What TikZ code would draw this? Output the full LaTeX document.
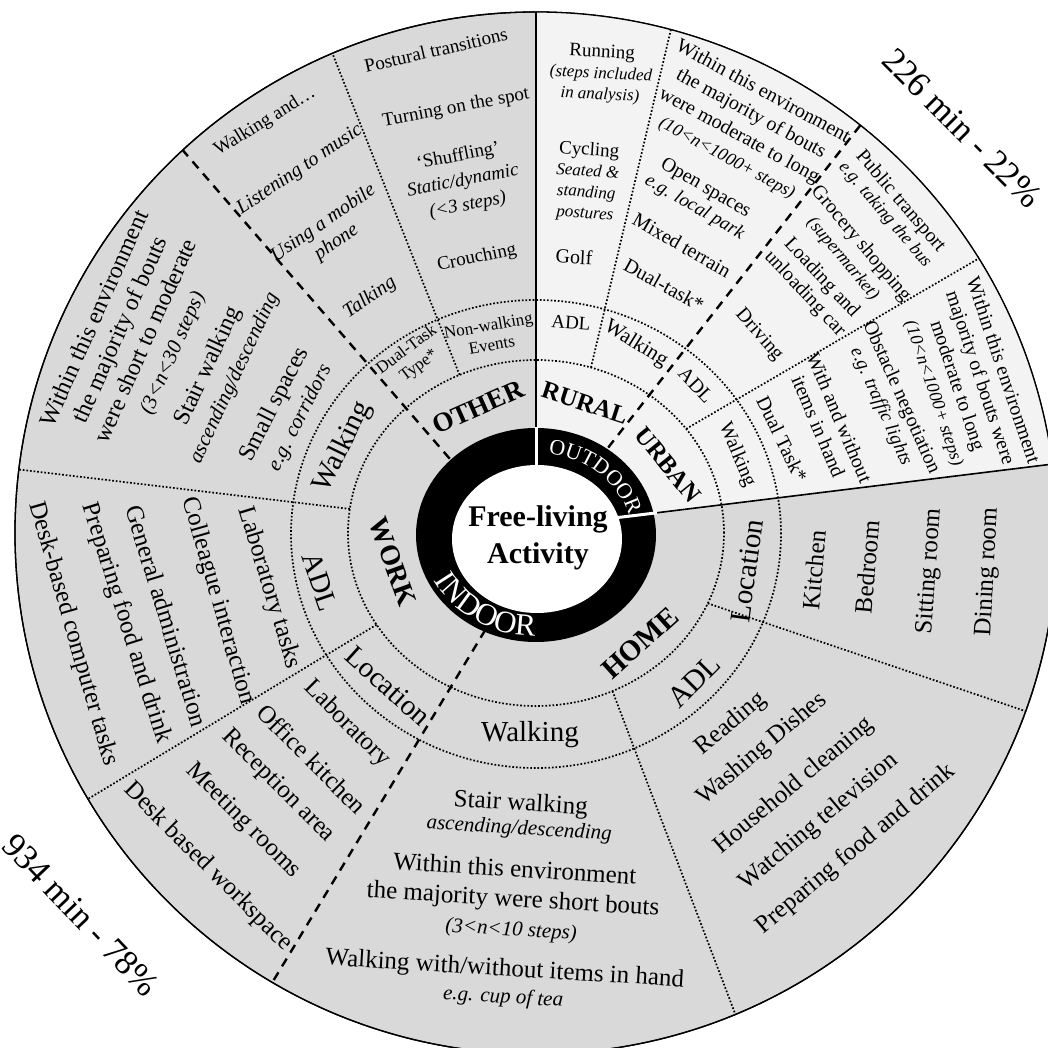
\documentclass[tikz,border=0pt]{standalone}
\usepackage{fontspec}
\setmainfont{Liberation Serif}
\usetikzlibrary{decorations.text}
\definecolor{indoorgray}{RGB}{217,217,217}
\definecolor{outdoorgray}{RGB}{243,243,243}
\newcommand{\fsz}[2]{\fontsize{#1}{#2}\selectfont}
\begin{document}
\begin{tikzpicture}[x=1pt,y=1pt,
  dotline/.style={line width=1.7pt, dash pattern=on 1.7pt off 1.9pt},
  dashline/.style={line width=2.4pt, dash pattern=on 9pt off 7pt},
  lbl/.style={align=center, inner sep=0pt, text=black}]
\useasboundingbox (-536,-515) rectangle (512,533);
\clip (-536,-515) rectangle (512,533);
\fill[white] (-536,-515) rectangle (512,533);
% discs
\filldraw[fill=indoorgray, draw=black, line width=1.3pt] (0,0) circle[radius=521pt];
\fill[outdoorgray] (0,0) -- (119,20) -- (516.4,68.9) arc[start angle=7.6, end angle=90, radius=521pt] -- cycle;
\draw[black, line width=1.3pt] (0,0) circle[radius=521pt];
% dotted rings
\draw[dotline] (0,0) ellipse[x radius=188pt, y radius=173pt];
\draw[dotline] (0,-1) ellipse[x radius=245pt, y radius=234pt];
% dotted radial separators
\draw[dotline] (114:188pt and 173pt) -- (113:521pt);
\draw[dotline] (73:188pt and 173pt) -- (75:521pt);
\draw[dotline] (37:188pt and 173pt) -- (31.8:521pt);
\draw[dotline] (336:188pt and 173pt) -- (340:521pt);
\draw[dotline] (294:188pt and 173pt) -- (292.5:521pt);
\draw[dotline] (172:188pt and 173pt) -- (173:521pt);
\draw[dotline] (212:188pt and 173pt) -- (210.7:521pt);
% dashed separators
\draw[dashline] (53:120pt and 107pt) -- (51.5:521pt);
\draw[dashline] (136:120pt and 107pt) -- (132.7:521pt);
\draw[dashline] (245:120pt and 107pt) -- (239.6:521pt);
% solid separators
\draw[black, line width=1.6pt] (0,100) -- (0,521);
\draw[black, line width=1.6pt] (115,19.5) -- (516.4,68.9);
% central ring
\fill[black] (0,-2) ellipse[x radius=120pt, y radius=107pt];
\fill[white] (1,-6) ellipse[x radius=85pt, y radius=74pt];
\draw[white, line width=3pt] (0,64) -- (0,106);
\draw[white, line width=3pt] (82,15.5) -- (121,20.2);
\path[decorate, decoration={text along path, text={|\fsz{22}{22}|OUTDOOR}, text align=center, text color=white}]
  (0,-4) ++(93:96pt and 84pt) arc[start angle=93, end angle=3, x radius=96pt, y radius=84pt];
\path[decorate, decoration={text along path, text={|\fsz{31}{31}|INDOOR}, text align=center, text color=white}]
  (0,-3) ++(187:114pt and 100pt) arc[start angle=187, end angle=287, x radius=114pt, y radius=100pt];
\begin{scope}[shift={(-536,533)}, yscale=-1]
% centre
\node[lbl, font=\fsz{30}{37}\bfseries] (centre) at (538,538) {Free-living\\Activity};
% categories
\node[lbl, rotate=24, font=\fsz{27}{30}\bfseries] (cOther) at (478,407) {OTHER};
\node[lbl, rotate=-18, font=\fsz{25}{30}\bfseries] (cRural) at (585,403) {RURAL};
\node[lbl, rotate=-51, font=\fsz{25}{30}\bfseries] (cUrban) at (668,465) {URBAN};
\node[lbl, rotate=-70, font=\fsz{28}{30}\bfseries] (cWork) at (393,562) {WORK};
\node[lbl, rotate=42, font=\fsz{29}{30}\bfseries] (cHome) at (640,643) {HOME};
% sub ring
\node[lbl, rotate=37, font=\fsz{17}{20}] (sDual) at (413,358) {Dual-Task\\Type*};
\node[lbl, rotate=10, font=\fsz{17}{20}] (sNon) at (490,335) {Non-walking\\Events};
\node[lbl, rotate=-4, font=\fsz{19}{22}] (sRurAdl) at (571,323) {ADL};
\node[lbl, rotate=-32, font=\fsz{21}{24}] (sRurWalk) at (636,344) {Walking};
\node[lbl, rotate=-47, font=\fsz{20}{24}] (sUrbAdl) at (696,385) {ADL};
\node[lbl, rotate=-67, font=\fsz{20}{24}] (sUrbWalk) at (737,455) {Walking};
\node[lbl, rotate=64, font=\fsz{29}{32}] (sWorkWalk) at (343,447) {Walking};
\node[lbl, rotate=-71, font=\fsz{29}{32}] (sWorkAdl) at (320,582) {ADL};
\node[lbl, rotate=-42, font=\fsz{29}{32}] (sWorkLoc) at (388,686) {Location};
\node[lbl, rotate=82, font=\fsz{29}{32}] (sHomeLoc) at (747,571) {Location};
\node[lbl, rotate=45, font=\fsz{30}{32}] (sHomeAdl) at (694,681) {ADL};
\node[lbl, font=\fsz{29}{32}] (sHomeWalk) at (530,735) {Walking};
% OTHER items
\node[lbl, rotate=31.5, font=\fsz{19}{22}] (oWalkAnd) at (265,122) {Walking and…};
\node[lbl, rotate=34, font=\fsz{20}{23}\itshape] (oMusic) at (300,170) {Listening to music};
\node[lbl, rotate=34.5, font=\fsz{20}{23}\itshape] (oPhone) at (330,233) {Using a mobile\\phone};
\node[lbl, rotate=34.5, font=\fsz{20}{23}\itshape] (oTalk) at (370,298) {Talking};
\node[lbl, rotate=13, font=\fsz{19}{22}] (oPost) at (436,50) {Postural transitions};
\node[lbl, rotate=10.5, font=\fsz{19}{22}] (oTurn) at (456,108) {Turning on the spot};
\node[lbl, rotate=11, font=\fsz{19}{25}] (oShuf) at (463,181) {‘Shuffling’\\\textit{Static/dynamic}\\\textit{(<3 steps)}};
\node[lbl, rotate=12, font=\fsz{19}{22}] (oCrouch) at (477,258) {Crouching};
% RURAL items
\node[lbl, rotate=-3, font=\fsz{19}{21}] (oRun) at (601,74) {Running\\{\fsz{17}{21}\itshape (steps included}\\{\fsz{17}{21}\itshape in analysis)}};
\node[lbl, rotate=-4, font=\fsz{19}{21}] (oCyc) at (587,182) {Cycling\\{\fsz{17}{21}\itshape Seated \&}\\{\fsz{17}{21}\itshape standing}\\{\fsz{17}{21}\itshape postures}};
\node[lbl, rotate=-3, font=\fsz{20}{22}] (oGolf) at (574,257) {Golf};
\node[lbl, rotate=-28.5, font=\fsz{20}{25}] (oRurEnv) at (745,125) {Within this environment\\the majority of bouts\\were moderate to long\\{\fsz{18}{22}\itshape (10<n<1000+ steps)}};
\node[lbl, rotate=-30, font=\fsz{20}{22}] (oOpen) at (700,198) {Open spaces\\{\fsz{19}{22}\itshape e.g. local park}};
\node[lbl, rotate=-30, font=\fsz{20}{22}] (oMixed) at (682,245) {Mixed terrain};
\node[lbl, rotate=-29, font=\fsz{20}{22}] (oRurDual) at (664,285) {Dual-task*};
% URBAN items
\node[lbl, rotate=-49.5, font=\fsz{20}{20}] (oBus) at (893,208) {Public transport\\{\fsz{18}{20}\itshape e.g. taking the bus}};
\node[lbl, rotate=-50, font=\fsz{20}{23}] (oGroc) at (852,251) {Grocery shopping\\{\fsz{18}{20}\itshape (supermarket)}};
\node[lbl, rotate=-47, font=\fsz{20}{23}] (oLoad) at (813,286) {Loading and\\unloading car};
\node[lbl, rotate=-49, font=\fsz{20}{23}] (oDrive) at (759,335) {Driving};
\node[lbl, rotate=-64, font=\fsz{20}{23}] (oUrbDual) at (782,439) {Dual Task*};
\node[lbl, rotate=-67, font=\fsz{20}{23}] (oItems) at (829,422) {With and without\\items in hand};
\node[lbl, rotate=-66, font=\fsz{20}{22}] (oObst) at (891,402) {Obstacle negotiation\\{\fsz{19}{22}\itshape e.g. traffic lights}};
\node[lbl, rotate=-71.5, font=\fsz{20}{24}] (oUrbEnv) at (968,382) {Within this environment\\majority of bouts were\\moderate to long\\{\fsz{18}{22}\itshape (10<n<1000+ steps)}};
% WORK walking items
\node[lbl, rotate=66, font=\fsz{24}{28}] (oWorkEnv) at (134,336) {Within this environment\\the majority of bouts\\were short to moderate\\{\fsz{21}{24}\itshape (3<n<30 steps)}};
\node[lbl, rotate=65, font=\fsz{24}{28}] (oWorkStair) at (221,372) {Stair walking\\{\fsz{21}{24}\itshape ascending/descending}};
\node[lbl, rotate=63, font=\fsz{24}{28}] (oSmall) at (287,411) {Small spaces\\{\fsz{21}{24}\itshape e.g. corridors}};
% WORK ADL items
\node[lbl, rotate=-73, font=\fsz{25}{28}] (oLabT) at (269,588) {Laboratory tasks};
\node[lbl, rotate=-74, font=\fsz{25}{28}] (oColl) at (218,601) {Colleague interaction};
\node[lbl, rotate=-73, font=\fsz{25}{28}] (oGen) at (167,616) {General administration};
\node[lbl, rotate=-72.5, font=\fsz{25}{28}] (oPrepW) at (126,623) {Preparing food and drink};
\node[lbl, rotate=-74, font=\fsz{25}{28}] (oDesk) at (73,634) {Desk-based computer tasks};
% WORK location items
\node[lbl, rotate=-45, font=\fsz{25}{28}] (oLab) at (347,724) {Laboratory};
\node[lbl, rotate=-45, font=\fsz{25}{28}] (oOffice) at (312,759) {Office kitchen};
\node[lbl, rotate=-45, font=\fsz{25}{28}] (oRecep) at (278,786) {Reception area};
\node[lbl, rotate=-45, font=\fsz{25}{28}] (oMeet) at (243,821) {Meeting rooms};
\node[lbl, rotate=-45, font=\fsz{25}{28}] (oDeskW) at (208,867) {Desk based workspace};
% HOME location items
\node[lbl, rotate=85, font=\fsz{25}{28}] (oKitchen) at (814,570) {Kitchen};
\node[lbl, rotate=85, font=\fsz{25}{28}] (oBed) at (867,567) {Bedroom};
\node[lbl, rotate=86, font=\fsz{25}{28}] (oSit) at (930,571) {Sitting room};
\node[lbl, rotate=87, font=\fsz{25}{28}] (oDin) at (988,572) {Dining room};
% HOME ADL items
\node[lbl, rotate=40, font=\fsz{25}{28}] (oRead) at (731,724) {Reading};
\node[lbl, rotate=40, font=\fsz{25}{28}] (oWash) at (762,749) {Washing Dishes};
\node[lbl, rotate=40, font=\fsz{25}{28}] (oClean) at (794,786) {Household cleaning};
\node[lbl, rotate=40, font=\fsz{25}{28}] (oTV) at (819,822) {Watching television};
\node[lbl, rotate=40, font=\fsz{25}{28}] (oPrepH) at (856,849) {Preparing food and drink};
% HOME walking items
\node[lbl, rotate=-3.5, font=\fsz{25}{24}] (oHStair) at (520,816) {Stair walking\\{\fsz{21}{24}\itshape ascending/descending}};
\node[lbl, rotate=-3.5, font=\fsz{25}{29.5}] (oHEnv) at (513,900) {Within this environment\\the majority were short bouts\\{\fsz{21}{24}\itshape (3<n<10 steps)}};
\node[lbl, rotate=-3.5, font=\fsz{25}{27}] (oHHand) at (504,983) {Walking with/without items in hand\\{\fsz{21}{24}\itshape e.g. cup of tea}};
% totals
\node[lbl, rotate=-45, font=\fsz{35}{40}] (pOut) at (962,128) {226 min - 22\%};
\node[lbl, rotate=-46.5, font=\fsz{35}{40}] (pIn) at (81,915) {934 min - 78\%};
\end{scope}
\end{tikzpicture}
\end{document}
